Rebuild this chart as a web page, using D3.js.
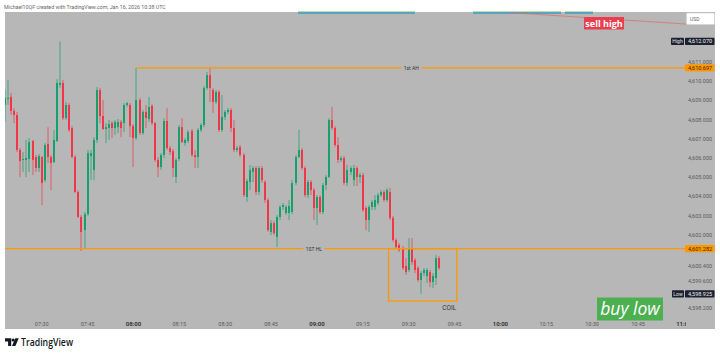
<!DOCTYPE html>
<html><head><meta charset="utf-8">
<script src="https://cdn.jsdelivr.net/npm/d3@7"></script>
<style>html,body{margin:0;padding:0;background:#fff;}svg{display:block;}</style>
</head><body>
<svg id="chart" width="720" height="356"></svg>
<script>
// ---------------- data ----------------
const firstCandleTime = "2026-01-16T07:18:00"; // 1-minute candles
const opens = [
4608.76,4609.07,4609.18,4608.45,4608.24,4606.42,4605.90,4605.90,4605.95,4606.89,
4606.05,4605.48,4606.05,4604.85,4606.73,4606.05,4605.79,4606.89,4609.80,4609.91,
4608.08,4608.76,4607.56,4606.05,4604.23,4602.93,4602.25,4603.08,4606.10,4605.38,
4606.94,4609.54,4608.19,4607.51,4607.56,4607.82,4607.56,4607.61,4607.88,4607.82,
4608.76,4608.76,4607.67,4607.04,4609.02,4607.30,4608.40,4608.03,4608.71,4607.82,
4605.90,4605.53,4606.16,4607.93,4606.52,4606.36,4605.01,4605.95,4607.61,4606.78,
4606.89,4607.41,4606.16,4606.05,4607.46,4607.72,4609.65,4610.32,4609.54,4608.92,
4609.44,4607.46,4608.14,4608.40,4608.50,4607.56,4606.42,4606.57,4606.16,4603.97,
4604.75,4605.27,4605.48,4604.23,4605.48,4604.75,4603.81,4602.15,4602.61,4601.89,
4602.93,4603.45,4603.14,4603.14,4603.19,4604.70,4606.05,4606.42,4605.48,4604.07,4604.75,
4604.33,4603.40,4603.97,4603.19,4604.59,4605.01,4607.98,4607.56,4606.68,4605.90,
4606.00,4604.70,4605.27,4604.85,4605.48,4605.01,4605.11,4603.40,4602.77,4603.45,
4603.45,4603.66,4604.07,4604.23,4603.81,4604.23,4602.88,4601.73,4601.47,4601.31,
4600.38,4600.17,4601.31,4600.69,4600.27,4599.65,4600.01,4599.85,4600.06,4599.54,
4599.75,4600.79];
const highs = [
4609.54,4610.06,4609.39,4608.60,4608.40,4606.52,4606.31,4606.94,4607.04,4606.94,
4606.16,4606.21,4606.10,4606.78,4607.61,4606.16,4607.46,4610.11,4612.07,4610.06,
4608.92,4608.86,4607.67,4606.16,4604.33,4603.03,4603.19,4606.42,4606.42,4607.09,
4609.70,4609.65,4609.02,4607.82,4607.98,4607.93,4607.98,4608.03,4607.98,4608.86,
4608.92,4608.86,4607.77,4610.697,4609.13,4608.50,4608.76,4609.18,4608.81,4607.88,
4606.05,4606.26,4608.08,4608.60,4606.63,4606.47,4606.00,4607.72,4608.08,4607.04,
4607.46,4607.51,4606.42,4607.56,4607.82,4609.75,4610.48,4610.697,4609.65,4609.54,
4609.54,4609.28,4608.50,4608.60,4608.60,4607.98,4606.63,4606.68,4606.26,4604.91,
4605.64,4605.58,4605.58,4605.58,4605.58,4604.85,4603.92,4602.77,4602.72,4603.03,
4603.55,4603.66,4603.55,4603.81,4604.85,4606.16,4607.46,4606.52,4605.58,4604.85,4604.85,
4604.44,4604.07,4604.07,4604.70,4605.11,4608.08,4608.66,4607.67,4607.09,4606.10,
4606.10,4605.64,4605.58,4605.64,4605.58,4605.22,4605.22,4603.50,4603.55,4603.81,
4604.07,4604.18,4604.33,4604.33,4604.44,4604.44,4602.98,4601.83,4601.57,4601.42,
4600.79,4601.83,4601.83,4600.79,4600.38,4600.11,4600.27,4600.27,4600.17,4600.01,
4600.95,4600.90];
const lows = [
4607.88,4608.76,4608.24,4607.82,4606.31,4605.01,4605.27,4605.01,4605.27,4605.11,
4605.27,4605.27,4603.55,4604.75,4605.74,4604.33,4605.74,4606.83,4609.65,4607.98,
4607.98,4607.35,4606.00,4604.18,4602.88,4601.16,4601.26,4602.98,4604.85,4604.85,
4606.78,4607.82,4607.46,4606.78,4606.94,4607.04,4607.20,4607.30,4607.09,4607.35,
4608.66,4607.09,4605.53,4606.94,4607.20,4607.20,4607.56,4607.88,4607.72,4605.79,
4605.01,4605.38,4606.00,4606.42,4606.16,4605.01,4604.70,4605.84,4606.78,4606.63,
4606.78,4606.05,4605.48,4605.48,4607.35,4607.61,4609.54,4608.92,4608.34,4608.81,
4607.35,4607.35,4607.98,4608.29,4607.35,4606.31,4606.31,4606.05,4603.97,4603.71,
4604.33,4604.75,4604.07,4604.07,4604.70,4603.66,4602.15,4601.99,4601.99,4601.36,
4602.77,4603.29,4603.03,4602.77,4603.08,4604.59,4606.00,4605.38,4603.97,4603.92,4604.07,
4602.77,4602.51,4603.08,4603.08,4604.33,4604.96,4607.46,4606.57,4605.74,4605.79,
4604.59,4604.54,4605.11,4604.54,4604.54,4604.70,4603.19,4602.25,4602.15,4603.29,
4603.29,4603.55,4603.97,4603.71,4603.71,4602.77,4601.63,4601.31,4601.10,4600.17,
4599.91,4600.06,4600.43,4600.01,4599.54,4598.925,4599.85,4599.49,4599.28,4599.23,
4599.39,4600.17];
const closes = [
4609.13,4609.13,4608.45,4608.24,4606.42,4605.84,4605.95,4606.00,4606.83,4605.90,
4605.48,4606.10,4604.70,4606.68,4606.05,4605.74,4606.94,4609.91,4609.91,4608.08,
4608.76,4607.46,4606.05,4604.23,4602.93,4602.15,4603.08,4606.26,4606.26,4606.94,
4609.54,4608.19,4607.51,4607.61,4607.77,4607.56,4607.88,4607.88,4607.56,4608.76,
4608.86,4607.67,4607.04,4609.02,4607.30,4608.40,4608.08,4608.66,4607.82,4605.90,
4605.53,4606.16,4607.93,4606.52,4606.31,4605.48,4605.90,4607.61,4606.83,4606.94,
4607.35,4606.16,4606.05,4607.46,4607.72,4609.65,4610.32,4609.65,4608.92,4609.44,
4607.46,4608.14,4608.40,4608.50,4607.56,4606.42,4606.52,4606.16,4604.07,4604.80,
4605.38,4605.48,4604.23,4605.48,4604.85,4603.81,4602.25,4602.61,4602.09,4602.93,
4603.45,4603.55,4603.45,4603.50,4604.70,4606.05,4606.42,4605.48,4604.07,4604.75,4604.33,
4603.40,4603.97,4603.19,4604.59,4605.01,4607.98,4607.56,4606.68,4605.90,4606.00,
4604.70,4605.38,4605.48,4605.48,4605.01,4605.11,4603.29,4602.77,4603.45,4603.71,
4603.81,4604.07,4604.23,4603.81,4604.33,4602.88,4601.73,4601.36,4601.21,4600.27,
4600.06,4601.31,4600.58,4600.17,4599.65,4600.01,4600.17,4600.17,4599.54,4599.85,
4600.79,4600.27];

const timeTicks = ["07:30","07:45","08:00","08:15","08:30","08:45","09:00","09:15","09:30","09:45","10:00","10:15","10:30","10:45","11:00"];
const hourTicks = ["08:00","09:00","10:00","11:00"];
const priceTicks = [4611,4610,4609,4608,4607,4606,4605,4604,4603,4602,4600.4,4599.6,4598.2];
const levelAH = 4610.697, levelAHStart = "08:01";
const levelHL = 4601.282, labelHLTime = "08:59";
const sessionHigh = 4612.070, sessionLow = 4598.925;
const coilStart = "09:23:25", coilEnd = "09:45:45", coilTop = 4601.282, coilBottom = 4598.55;

// ---------------- setup ----------------
const day = "2026-01-16T";
const T = s => new Date(day + (s.length === 5 ? s + ":00" : s));
const t0 = new Date(firstCandleTime);
const candles = opens.map((o, i) => ({
  t: new Date(t0.getTime() + i * 60000), o, h: highs[i], l: lows[i], c: closes[i]
}));

const plotL = 5, plotR = 686, plotT = 12, plotB = 329, bgR = 715;
const x = d3.scaleTime().domain([T("07:30"), T("10:45")]).range([41.7, 638]);
const y = d3.scaleLinear().domain([4598.2, 4611]).range([307.8, 62]);

const FONT = "Roboto, 'Liberation Sans', sans-serif";
const BG = "#b7b7b7", UP = "#15a06e", DOWN = "#f23645", ORANGE = "#ff9800";
const svg = d3.select("#chart");

svg.append("rect").attr("width", 720).attr("height", 356).attr("fill", "#fff");
svg.append("rect").attr("x", plotL).attr("y", plotT).attr("width", bgR - plotL).attr("height", plotB - plotT).attr("fill", BG);

svg.append("defs").append("clipPath").attr("id", "plotclip")
  .append("rect").attr("x", plotL).attr("y", plotT).attr("width", plotR - plotL).attr("height", plotB - plotT);

// header
svg.append("text").attr("x", 4).attr("y", 6.5).attr("dominant-baseline", "central")
  .attr("font-family", FONT).attr("font-size", 5.3).attr("fill", "#666")
  .text("Michael10QF created with TradingView.com, Jan 16, 2026 10:38 UTC");

// top strip indicator lines
const strips = [[298, 415], [473, 561], [565, 593]];
strips.forEach(([a, b]) => {
  svg.append("rect").attr("x", a).attr("y", 11.6).attr("width", b - a).attr("height", 1.1).attr("fill", "#4caf50");
  svg.append("rect").attr("x", a).attr("y", 12.7).attr("width", b - a).attr("height", 1.2).attr("fill", "#4a9be6");
});
svg.append("line").attr("x1", 508).attr("y1", 12.5).attr("x2", 686).attr("y2", 24)
  .attr("stroke", "#e06a74").attr("stroke-width", 0.9).attr("opacity", 0.8);

const g = svg.append("g").attr("clip-path", "url(#plotclip)");

// candles
const cg = g.append("g");
candles.forEach(d => {
  const cx = Math.round(x(d.t));
  const col = d.c >= d.o ? UP : DOWN;
  cg.append("line").attr("x1", cx).attr("x2", cx).attr("y1", y(d.h)).attr("y2", y(d.l))
    .attr("stroke", col).attr("stroke-width", 1).attr("stroke-opacity", 0.7);
  const top = y(Math.max(d.o, d.c)), bot = y(Math.min(d.o, d.c));
  cg.append("rect").attr("x", cx - 1).attr("y", top).attr("width", 2).attr("height", Math.max(1, bot - top)).attr("fill", col);
});

// horizontal levels
g.append("line").attr("x1", x(T(levelAHStart))).attr("x2", plotR).attr("y1", y(levelAH)).attr("y2", y(levelAH))
  .attr("stroke", ORANGE).attr("stroke-width", 1.2);
g.append("line").attr("x1", plotL).attr("x2", plotR).attr("y1", y(levelHL)).attr("y2", y(levelHL))
  .attr("stroke", ORANGE).attr("stroke-width", 1.2);

// coil box
const cx0 = x(T(coilStart)), cx1 = x(T(coilEnd));
g.append("rect").attr("x", cx0).attr("y", y(coilTop)).attr("width", cx1 - cx0).attr("height", y(coilBottom) - y(coilTop))
  .attr("fill", "none").attr("stroke", ORANGE).attr("stroke-width", 1.3);
g.append("text").attr("x", cx1 - 0.5).attr("y", y(coilBottom) + 6.5).attr("text-anchor", "end").attr("dominant-baseline", "central")
  .attr("font-family", FONT).attr("font-size", 6.5).attr("fill", "#333").text("COIL");

// level labels with gaps
function lineLabel(cx, yy, txt, w) {
  g.append("rect").attr("x", cx - w / 2).attr("y", yy - 3).attr("width", w).attr("height", 6).attr("fill", BG);
  g.append("text").attr("x", cx).attr("y", yy).attr("text-anchor", "middle").attr("dominant-baseline", "central")
    .attr("font-family", FONT).attr("font-size", 5).attr("fill", "#333").text(txt);
}
lineLabel((x(T(levelAHStart)) + plotR) / 2, y(levelAH), "1st AH", 20);
lineLabel(x(T(labelHLTime)), y(levelHL), "1ST HL", 21);

// time axis
const tg = g.append("g");
timeTicks.forEach(s => {
  const bold = hourTicks.includes(s);
  tg.append("text").attr("x", x(T(s))).attr("y", 323.7).attr("text-anchor", "middle").attr("dominant-baseline", "central")
    .attr("font-family", FONT).attr("font-size", bold ? 6 : 5.5).attr("font-weight", bold ? 600 : 400)
    .attr("fill", bold ? "#2a2a2a" : "#5a5a5a").text(s);
});

// price axis
const fmt = d3.format(",.3f");
const axX = 700;
priceTicks.forEach(v => {
  svg.append("text").attr("x", axX).attr("y", y(v)).attr("text-anchor", "middle").attr("dominant-baseline", "central")
    .attr("font-family", FONT).attr("font-size", 5.5).attr("fill", "#5a5a5a").text(fmt(v));
});
function priceTag(v, fill, txtCol) {
  svg.append("rect").attr("x", 685).attr("y", y(v) - 3.6).attr("width", 29.5).attr("height", 7.2).attr("fill", fill).attr("rx", 0.8);
  svg.append("text").attr("x", axX).attr("y", y(v)).attr("text-anchor", "middle").attr("dominant-baseline", "central")
    .attr("font-family", FONT).attr("font-size", 5.5).attr("fill", txtCol).text(fmt(v));
}
priceTag(levelAH, ORANGE, "#3b2600");
priceTag(levelHL, ORANGE, "#3b2600");
function hlTag(v, name, nx, nw) {
  svg.append("rect").attr("x", nx).attr("y", y(v) - 3.6).attr("width", nw).attr("height", 7.2).attr("fill", "#1c2030").attr("rx", 0.8);
  svg.append("text").attr("x", nx + nw / 2).attr("y", y(v)).attr("text-anchor", "middle").attr("dominant-baseline", "central")
    .attr("font-family", FONT).attr("font-size", 5).attr("fill", "#e8e8e8").text(name);
  priceTag(v, "#1c2030", "#f0f0f0");
}
hlTag(sessionHigh, "High", 671, 13);
hlTag(sessionLow, "Low", 672, 12);

// USD box
svg.append("rect").attr("x", 686.5).attr("y", 13).attr("width", 28).attr("height", 11.5).attr("fill", "#fff").attr("stroke", "#d4d4d4").attr("stroke-width", 0.6).attr("rx", 1);
svg.append("text").attr("x", 690).attr("y", 18.8).attr("dominant-baseline", "central").attr("font-family", FONT)
  .attr("font-size", 5).attr("fill", "#666").text("USD");

// sell high / buy low annotations
svg.append("rect").attr("x", 584).attr("y", 17).attr("width", 40).attr("height", 12.5).attr("fill", "#ea3e4e");
svg.append("text").attr("x", 604).attr("y", 23.3).attr("text-anchor", "middle").attr("dominant-baseline", "central")
  .attr("font-family", "'Open Sans', sans-serif").attr("font-weight", 700).attr("font-size", 9).attr("fill", "#fff").text("sell high");

svg.append("rect").attr("x", 597).attr("y", 297.5).attr("width", 66).attr("height", 23).attr("fill", "#4caf50");
svg.append("text").attr("x", 630).attr("y", 315).attr("text-anchor", "middle")
  .attr("font-family", "'Open Sans', sans-serif").attr("font-style", "italic").attr("font-size", 17.5).attr("fill", "#fff").text("buy low");

// footer logo
const lg = svg.append("g").attr("fill", "#131722");
lg.append("path").attr("d", "M5 338.3h6.2v7.7h-3.1v-4.6H5z");
lg.append("circle").attr("cx", 13.1).attr("cy", 340).attr("r", 1.6);
lg.append("path").attr("d", "M15.3 338.3h3.4l-3.3 7.7h-3.4z");
svg.append("text").attr("x", 21).attr("y", 346.2).attr("font-family", "'Open Sans', sans-serif").attr("font-weight", 600)
  .attr("font-size", 10.5).attr("fill", "#131722").attr("textLength", 52).attr("lengthAdjust", "spacingAndGlyphs").text("TradingView");
</script>
</body></html>
